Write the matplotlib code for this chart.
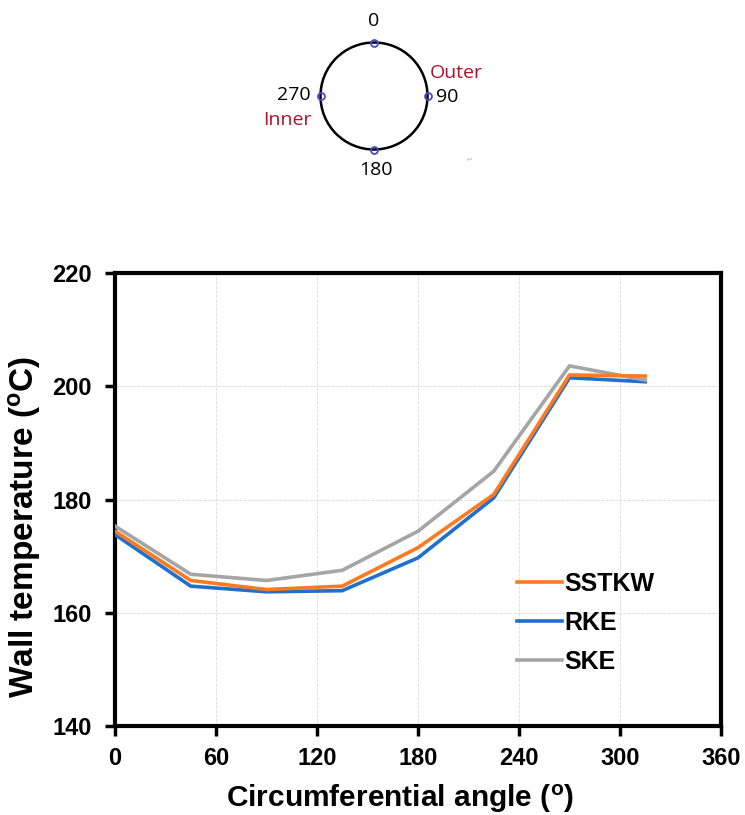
import matplotlib
matplotlib.use("Agg")
import matplotlib.pyplot as plt
from matplotlib.patches import Circle

# ── Data ─────────────────────────────────────────────────────────────────────
angle = [0, 45, 90, 135, 180, 225, 270, 315]
sstkw = [174.4, 165.7, 164.1, 164.7, 171.5, 180.9, 202.0, 201.8]
rke   = [173.8, 164.7, 163.7, 163.9, 169.7, 180.3, 201.5, 200.8]
ske   = [175.3, 166.8, 165.7, 167.5, 174.4, 185.0, 203.6, 201.1]

x_ticks = [0, 60, 120, 180, 240, 300, 360]
y_ticks = [140, 160, 180, 200, 220]

plt.rcParams["font.family"] = ["Liberation Sans", "DejaVu Sans"]
plt.rcParams["mathtext.fontset"] = "custom"
plt.rcParams["mathtext.rm"] = "Liberation Sans:bold"
plt.rcParams["mathtext.bf"] = "Liberation Sans:bold"

fig = plt.figure(figsize=(7.45, 8.15), dpi=100)

# ── Main chart ───────────────────────────────────────────────────────────────
ax = fig.add_axes([0.1544, 0.1092, 0.8134, 0.5558])
ax.plot(angle, sstkw, color="#FF7A1F", lw=2.6, label="SSTKW", zorder=4)
ax.plot(angle, rke, color="#1F6FCF", lw=2.6, label="RKE", zorder=3)
ax.plot(angle, ske, color="#A5A5A5", lw=2.6, label="SKE", zorder=3)

ax.set_xlim(0, 360)
ax.set_ylim(140, 220)
ax.set_xticks(x_ticks)
ax.set_yticks(y_ticks)
ax.grid(True, linestyle="--", linewidth=0.6, color="#d9d9d9")
for s in ax.spines.values():
    s.set_linewidth(3)
ax.tick_params(axis="both", direction="out", length=7, width=2.5,
               labelsize=17)
ax.tick_params(axis="x", pad=8)
ax.tick_params(axis="y", pad=10)
for lbl in ax.get_xticklabels() + ax.get_yticklabels():
    lbl.set_fontweight("bold")

ax.set_xlabel(r"Circumferential angle ($\mathregular{^o}$)", fontsize=21.5,
              fontweight="bold")
ax.set_ylabel(r"Wall temperature ($\mathregular{^o}$C)", fontsize=24,
              fontweight="bold")
# label anchors: top edge of x label, right edge of y label (pixels -> axes)
ax.xaxis.set_label_coords((400 - 115) / 606, (726 - 783) / 453)
ax.yaxis.set_label_coords((43 - 115) / 606, (726 - 527) / 453)

leg = ax.legend(loc="center left", bbox_to_anchor=(0.647, 0.228), frameon=False,
                prop={"weight": "bold", "size": 18}, handlelength=1.8,
                handletextpad=0.1, labelspacing=0.6, borderaxespad=0)

# ── Circle sketch on top ─────────────────────────────────────────────────────
sk = fig.add_axes([0, 0, 1, 1], zorder=-1)
sk.set_xlim(0, 745)
sk.set_ylim(815, 0)
sk.axis("off")
cx, cy, r = 374, 96, 53.5
sk.add_patch(Circle((cx, cy), r, fill=False, lw=1.8, color="black"))
pts_x = [cx, cx + r, cx, cx - r]
pts_y = [cy - r, cy, cy + r, cy]
sk.plot(pts_x, pts_y, "o", ms=5, mfc="none", mec="#4a4ac8", mew=1.3)

skf = ["Open Sans", "DejaVu Sans"]
fs = 14
sk.text(cx, 21, "0", ha="center", va="center", fontsize=fs, family=skf)
sk.text(436, 97, "90", ha="left", va="center", fontsize=fs, family=skf)
sk.text(376, 170, "180", ha="center", va="center", fontsize=fs, family=skf)
sk.text(311, 95, "270", ha="right", va="center", fontsize=fs, family=skf)
sk.text(430, 73, "Outer", ha="left", va="center", fontsize=fs,
        color="#B0102A", family=skf)
sk.text(312, 120, "Inner", ha="right", va="center", fontsize=fs,
        color="#B0102A", family=skf)
sk.text(470, 160, "\u21b5", ha="center", va="center", fontsize=5,
        color="#bbbbbb", family=["DejaVu Sans"])

fig.savefig("out.png", dpi=100)
